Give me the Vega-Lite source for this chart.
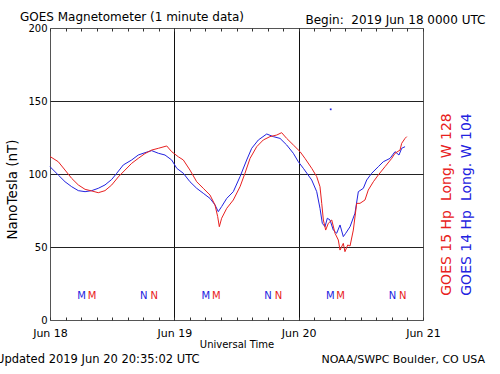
{
  "$schema": "https://vega.github.io/schema/vega-lite/v6.json",
  "width": 373,
  "height": 292,
  "autosize": {"type": "none"},
  "padding": {"left": 50, "top": 28, "right": 77, "bottom": 54},
  "background": "white",
  "title": {"text": "GOES Magnetometer (1 minute data)", "anchor": "start", "frame": "group", "dx": -30, "dy": 27.5, "offset": 8, "baseline": "alphabetic", "font": "DejaVu Sans", "fontSize": 12, "fontWeight": "normal", "color": "black"},
  "config": {
    "view": {"stroke": "#555", "strokeWidth": 1},
    "axis": {"labelFont": "DejaVu Sans", "titleFont": "DejaVu Sans", "labelColor": "black", "titleColor": "black", "titleFontWeight": "normal", "domain": false, "grid": false, "tickColor": "#333"},
    "text": {"font": "DejaVu Sans"}
  },
  "resolve": {"axis": {"x": "independent", "y": "independent"}},
  "layer": [
    {
      "data": {"values": [
        {"sat": "GOES 14", "t": "2019-06-18T00:00Z", "nT": 105},
        {"sat": "GOES 14", "t": "2019-06-18T01:36Z", "nT": 99.3},
        {"sat": "GOES 14", "t": "2019-06-18T02:54Z", "nT": 94.7},
        {"sat": "GOES 14", "t": "2019-06-18T04:11Z", "nT": 91.3},
        {"sat": "GOES 14", "t": "2019-06-18T05:28Z", "nT": 88.6},
        {"sat": "GOES 14", "t": "2019-06-18T06:46Z", "nT": 87.9},
        {"sat": "GOES 14", "t": "2019-06-18T08:03Z", "nT": 88.6},
        {"sat": "GOES 14", "t": "2019-06-18T09:19Z", "nT": 90.2},
        {"sat": "GOES 14", "t": "2019-06-18T10:37Z", "nT": 92.5},
        {"sat": "GOES 14", "t": "2019-06-18T11:55Z", "nT": 96.3},
        {"sat": "GOES 14", "t": "2019-06-18T12:53Z", "nT": 100.5},
        {"sat": "GOES 14", "t": "2019-06-18T14:09Z", "nT": 106.2},
        {"sat": "GOES 14", "t": "2019-06-18T15:46Z", "nT": 109.6},
        {"sat": "GOES 14", "t": "2019-06-18T17:02Z", "nT": 113},
        {"sat": "GOES 14", "t": "2019-06-18T18:20Z", "nT": 114.6},
        {"sat": "GOES 14", "t": "2019-06-18T19:38Z", "nT": 116},
        {"sat": "GOES 14", "t": "2019-06-18T20:55Z", "nT": 114.2},
        {"sat": "GOES 14", "t": "2019-06-18T22:12Z", "nT": 113},
        {"sat": "GOES 14", "t": "2019-06-18T23:29Z", "nT": 109.6},
        {"sat": "GOES 14", "t": "2019-06-19T00:28Z", "nT": 103.9},
        {"sat": "GOES 14", "t": "2019-06-19T01:44Z", "nT": 100.5},
        {"sat": "GOES 14", "t": "2019-06-19T03:01Z", "nT": 94.7},
        {"sat": "GOES 14", "t": "2019-06-19T04:19Z", "nT": 90.2},
        {"sat": "GOES 14", "t": "2019-06-19T05:35Z", "nT": 86.8},
        {"sat": "GOES 14", "t": "2019-06-19T06:53Z", "nT": 83.3},
        {"sat": "GOES 14", "t": "2019-06-19T07:51Z", "nT": 78.8},
        {"sat": "GOES 14", "t": "2019-06-19T08:29Z", "nT": 74.2},
        {"sat": "GOES 14", "t": "2019-06-19T09:08Z", "nT": 77.7},
        {"sat": "GOES 14", "t": "2019-06-19T10:07Z", "nT": 83.3},
        {"sat": "GOES 14", "t": "2019-06-19T11:23Z", "nT": 87.9},
        {"sat": "GOES 14", "t": "2019-06-19T12:41Z", "nT": 98.2},
        {"sat": "GOES 14", "t": "2019-06-19T13:58Z", "nT": 109.6},
        {"sat": "GOES 14", "t": "2019-06-19T14:56Z", "nT": 117.6},
        {"sat": "GOES 14", "t": "2019-06-19T16:13Z", "nT": 123.3},
        {"sat": "GOES 14", "t": "2019-06-19T17:50Z", "nT": 127.4},
        {"sat": "GOES 14", "t": "2019-06-19T19:06Z", "nT": 125.6},
        {"sat": "GOES 14", "t": "2019-06-19T20:24Z", "nT": 124.4},
        {"sat": "GOES 14", "t": "2019-06-19T21:41Z", "nT": 119.9},
        {"sat": "GOES 14", "t": "2019-06-19T22:58Z", "nT": 114.2},
        {"sat": "GOES 14", "t": "2019-06-19T23:56Z", "nT": 108.4},
        {"sat": "GOES 14", "t": "2019-06-20T00:54Z", "nT": 103.9},
        {"sat": "GOES 14", "t": "2019-06-20T02:31Z", "nT": 95.9},
        {"sat": "GOES 14", "t": "2019-06-20T03:29Z", "nT": 87.9},
        {"sat": "GOES 14", "t": "2019-06-20T04:07Z", "nT": 76.5},
        {"sat": "GOES 14", "t": "2019-06-20T04:34Z", "nT": 66.2},
        {"sat": "GOES 14", "t": "2019-06-20T05:05Z", "nT": 63.9},
        {"sat": "GOES 14", "t": "2019-06-20T05:32Z", "nT": 69.7},
        {"sat": "GOES 14", "t": "2019-06-20T06:03Z", "nT": 68.5},
        {"sat": "GOES 14", "t": "2019-06-20T06:41Z", "nT": 61.6},
        {"sat": "GOES 14", "t": "2019-06-20T07:20Z", "nT": 59.4},
        {"sat": "GOES 14", "t": "2019-06-20T07:59Z", "nT": 65.1},
        {"sat": "GOES 14", "t": "2019-06-20T08:37Z", "nT": 57.1},
        {"sat": "GOES 14", "t": "2019-06-20T09:05Z", "nT": 59.4},
        {"sat": "GOES 14", "t": "2019-06-20T09:55Z", "nT": 63.9},
        {"sat": "GOES 14", "t": "2019-06-20T10:52Z", "nT": 73.1},
        {"sat": "GOES 14", "t": "2019-06-20T11:31Z", "nT": 87.9},
        {"sat": "GOES 14", "t": "2019-06-20T12:29Z", "nT": 90.2},
        {"sat": "GOES 14", "t": "2019-06-20T13:08Z", "nT": 95.9},
        {"sat": "GOES 14", "t": "2019-06-20T14:06Z", "nT": 100.5},
        {"sat": "GOES 14", "t": "2019-06-20T15:22Z", "nT": 105},
        {"sat": "GOES 14", "t": "2019-06-20T16:20Z", "nT": 108.4},
        {"sat": "GOES 14", "t": "2019-06-20T17:38Z", "nT": 110.7},
        {"sat": "GOES 14", "t": "2019-06-20T18:36Z", "nT": 115.3},
        {"sat": "GOES 14", "t": "2019-06-20T19:22Z", "nT": 113},
        {"sat": "GOES 14", "t": "2019-06-20T19:53Z", "nT": 117.6},
        {"sat": "GOES 14", "t": "2019-06-20T20:32Z", "nT": 118.7},
        {"sat": "GOES 15", "t": "2019-06-18T00:00Z", "nT": 112},
        {"sat": "GOES 15", "t": "2019-06-18T01:36Z", "nT": 108.4},
        {"sat": "GOES 15", "t": "2019-06-18T02:54Z", "nT": 102.7},
        {"sat": "GOES 15", "t": "2019-06-18T04:11Z", "nT": 97},
        {"sat": "GOES 15", "t": "2019-06-18T05:28Z", "nT": 92.5},
        {"sat": "GOES 15", "t": "2019-06-18T06:46Z", "nT": 89.5},
        {"sat": "GOES 15", "t": "2019-06-18T08:03Z", "nT": 88.4},
        {"sat": "GOES 15", "t": "2019-06-18T09:19Z", "nT": 87.2},
        {"sat": "GOES 15", "t": "2019-06-18T10:37Z", "nT": 88.6},
        {"sat": "GOES 15", "t": "2019-06-18T11:55Z", "nT": 92.5},
        {"sat": "GOES 15", "t": "2019-06-18T13:11Z", "nT": 98},
        {"sat": "GOES 15", "t": "2019-06-18T14:29Z", "nT": 102.7},
        {"sat": "GOES 15", "t": "2019-06-18T15:46Z", "nT": 107.3},
        {"sat": "GOES 15", "t": "2019-06-18T17:02Z", "nT": 110.7},
        {"sat": "GOES 15", "t": "2019-06-18T18:20Z", "nT": 114},
        {"sat": "GOES 15", "t": "2019-06-18T19:38Z", "nT": 116.4},
        {"sat": "GOES 15", "t": "2019-06-18T20:55Z", "nT": 117.6},
        {"sat": "GOES 15", "t": "2019-06-18T22:32Z", "nT": 119.2},
        {"sat": "GOES 15", "t": "2019-06-18T23:29Z", "nT": 115.3},
        {"sat": "GOES 15", "t": "2019-06-19T00:46Z", "nT": 111.8},
        {"sat": "GOES 15", "t": "2019-06-19T01:44Z", "nT": 109.6},
        {"sat": "GOES 15", "t": "2019-06-19T03:01Z", "nT": 102.7},
        {"sat": "GOES 15", "t": "2019-06-19T04:19Z", "nT": 94.7},
        {"sat": "GOES 15", "t": "2019-06-19T05:35Z", "nT": 90.2},
        {"sat": "GOES 15", "t": "2019-06-19T06:53Z", "nT": 85.6},
        {"sat": "GOES 15", "t": "2019-06-19T07:51Z", "nT": 78.8},
        {"sat": "GOES 15", "t": "2019-06-19T08:22Z", "nT": 70.8},
        {"sat": "GOES 15", "t": "2019-06-19T08:41Z", "nT": 63.9},
        {"sat": "GOES 15", "t": "2019-06-19T09:08Z", "nT": 69.7},
        {"sat": "GOES 15", "t": "2019-06-19T10:07Z", "nT": 76.5},
        {"sat": "GOES 15", "t": "2019-06-19T11:23Z", "nT": 82.2},
        {"sat": "GOES 15", "t": "2019-06-19T12:41Z", "nT": 91.3},
        {"sat": "GOES 15", "t": "2019-06-19T13:38Z", "nT": 100.5},
        {"sat": "GOES 15", "t": "2019-06-19T14:37Z", "nT": 110.7},
        {"sat": "GOES 15", "t": "2019-06-19T15:54Z", "nT": 118.7},
        {"sat": "GOES 15", "t": "2019-06-19T17:10Z", "nT": 123.3},
        {"sat": "GOES 15", "t": "2019-06-19T18:28Z", "nT": 125.6},
        {"sat": "GOES 15", "t": "2019-06-19T19:46Z", "nT": 126.7},
        {"sat": "GOES 15", "t": "2019-06-19T20:43Z", "nT": 128.3},
        {"sat": "GOES 15", "t": "2019-06-19T21:41Z", "nT": 124.4},
        {"sat": "GOES 15", "t": "2019-06-19T22:58Z", "nT": 119.9},
        {"sat": "GOES 15", "t": "2019-06-20T00:16Z", "nT": 115.3},
        {"sat": "GOES 15", "t": "2019-06-20T01:13Z", "nT": 110.7},
        {"sat": "GOES 15", "t": "2019-06-20T02:31Z", "nT": 103.9},
        {"sat": "GOES 15", "t": "2019-06-20T03:29Z", "nT": 98.2},
        {"sat": "GOES 15", "t": "2019-06-20T04:07Z", "nT": 91.3},
        {"sat": "GOES 15", "t": "2019-06-20T04:27Z", "nT": 79.9},
        {"sat": "GOES 15", "t": "2019-06-20T04:46Z", "nT": 68.5},
        {"sat": "GOES 15", "t": "2019-06-20T05:13Z", "nT": 61.6},
        {"sat": "GOES 15", "t": "2019-06-20T05:43Z", "nT": 66.2},
        {"sat": "GOES 15", "t": "2019-06-20T06:23Z", "nT": 68.5},
        {"sat": "GOES 15", "t": "2019-06-20T07:01Z", "nT": 59.4},
        {"sat": "GOES 15", "t": "2019-06-20T07:39Z", "nT": 54.8},
        {"sat": "GOES 15", "t": "2019-06-20T07:59Z", "nT": 47.9},
        {"sat": "GOES 15", "t": "2019-06-20T08:37Z", "nT": 52.5},
        {"sat": "GOES 15", "t": "2019-06-20T08:56Z", "nT": 46.8},
        {"sat": "GOES 15", "t": "2019-06-20T09:28Z", "nT": 51.4},
        {"sat": "GOES 15", "t": "2019-06-20T09:55Z", "nT": 50.7},
        {"sat": "GOES 15", "t": "2019-06-20T10:33Z", "nT": 61.6},
        {"sat": "GOES 15", "t": "2019-06-20T11:12Z", "nT": 79.9},
        {"sat": "GOES 15", "t": "2019-06-20T11:50Z", "nT": 79.9},
        {"sat": "GOES 15", "t": "2019-06-20T12:48Z", "nT": 82.2},
        {"sat": "GOES 15", "t": "2019-06-20T13:26Z", "nT": 89},
        {"sat": "GOES 15", "t": "2019-06-20T14:25Z", "nT": 94.7},
        {"sat": "GOES 15", "t": "2019-06-20T15:22Z", "nT": 99.3},
        {"sat": "GOES 15", "t": "2019-06-20T16:40Z", "nT": 105},
        {"sat": "GOES 15", "t": "2019-06-20T17:58Z", "nT": 110.7},
        {"sat": "GOES 15", "t": "2019-06-20T18:36Z", "nT": 114.2},
        {"sat": "GOES 15", "t": "2019-06-20T19:34Z", "nT": 116.4},
        {"sat": "GOES 15", "t": "2019-06-20T19:53Z", "nT": 121},
        {"sat": "GOES 15", "t": "2019-06-20T20:32Z", "nT": 124.4},
        {"sat": "GOES 15", "t": "2019-06-20T20:52Z", "nT": 125.6}
      ]},
      "mark": {"type": "line", "strokeWidth": 1},
      "encoding": {
        "x": {"field": "t", "type": "temporal",
          "scale": {"type": "utc", "domain": [{"year": 2019, "month": 6, "date": 18, "utc": true}, {"year": 2019, "month": 6, "date": 21, "utc": true}]},
          "axis": {"orient": "bottom", "values": [
            {"year": 2019, "month": 6, "date": 18, "hours": 0, "utc": true}, {"year": 2019, "month": 6, "date": 18, "hours": 3, "utc": true}, {"year": 2019, "month": 6, "date": 18, "hours": 6, "utc": true}, {"year": 2019, "month": 6, "date": 18, "hours": 9, "utc": true}, {"year": 2019, "month": 6, "date": 18, "hours": 12, "utc": true}, {"year": 2019, "month": 6, "date": 18, "hours": 15, "utc": true}, {"year": 2019, "month": 6, "date": 18, "hours": 18, "utc": true}, {"year": 2019, "month": 6, "date": 18, "hours": 21, "utc": true},
            {"year": 2019, "month": 6, "date": 19, "hours": 0, "utc": true}, {"year": 2019, "month": 6, "date": 19, "hours": 3, "utc": true}, {"year": 2019, "month": 6, "date": 19, "hours": 6, "utc": true}, {"year": 2019, "month": 6, "date": 19, "hours": 9, "utc": true}, {"year": 2019, "month": 6, "date": 19, "hours": 12, "utc": true}, {"year": 2019, "month": 6, "date": 19, "hours": 15, "utc": true}, {"year": 2019, "month": 6, "date": 19, "hours": 18, "utc": true}, {"year": 2019, "month": 6, "date": 19, "hours": 21, "utc": true},
            {"year": 2019, "month": 6, "date": 20, "hours": 0, "utc": true}, {"year": 2019, "month": 6, "date": 20, "hours": 3, "utc": true}, {"year": 2019, "month": 6, "date": 20, "hours": 6, "utc": true}, {"year": 2019, "month": 6, "date": 20, "hours": 9, "utc": true}, {"year": 2019, "month": 6, "date": 20, "hours": 12, "utc": true}, {"year": 2019, "month": 6, "date": 20, "hours": 15, "utc": true}, {"year": 2019, "month": 6, "date": 20, "hours": 18, "utc": true}, {"year": 2019, "month": 6, "date": 20, "hours": 21, "utc": true},
            {"year": 2019, "month": 6, "date": 21, "hours": 0, "utc": true}],
            "tickSize": -3, "labelExpr": "utchours(datum.value) == 0 ? utcFormat(datum.value, '%b %d') : ''", "labelFlush": false, "labelOverlap": false, "labelBound": false, "labelPadding": 10, "labelFontSize": 11, "title": "Universal Time", "titleFontSize": 10, "titleY": 24, "titleBaseline": "middle"}},
        "y": {"field": "nT", "type": "quantitative", "scale": {"domain": [0, 200]},
          "axis": {"orient": "left", "values": [0, 50, 100, 150, 200], "ticks": false, "labelPadding": 3, "labelFontSize": 10, "title": "NanoTesla (nT)", "titleFontSize": 13.5, "titleX": -38, "titleY": 161, "titleAngle": 270, "titleAlign": "center", "titleBaseline": "middle"}},
        "color": {"field": "sat", "type": "nominal", "scale": {"domain": ["GOES 15", "GOES 14"], "range": ["#e82020", "#2222e0"]}, "legend": null}
      }
    },
    {
      "data": {"values": [
        {"sat": "GOES 14", "t": "2019-06-18T06:06Z", "letter": "M"},
        {"sat": "GOES 15", "t": "2019-06-18T08:06Z", "letter": "M"},
        {"sat": "GOES 14", "t": "2019-06-18T18:06Z", "letter": "N"},
        {"sat": "GOES 15", "t": "2019-06-18T20:06Z", "letter": "N"},
        {"sat": "GOES 14", "t": "2019-06-19T06:06Z", "letter": "M"},
        {"sat": "GOES 15", "t": "2019-06-19T08:06Z", "letter": "M"},
        {"sat": "GOES 14", "t": "2019-06-19T18:06Z", "letter": "N"},
        {"sat": "GOES 15", "t": "2019-06-19T20:06Z", "letter": "N"},
        {"sat": "GOES 14", "t": "2019-06-20T06:06Z", "letter": "M"},
        {"sat": "GOES 15", "t": "2019-06-20T08:06Z", "letter": "M"},
        {"sat": "GOES 14", "t": "2019-06-20T18:06Z", "letter": "N"},
        {"sat": "GOES 15", "t": "2019-06-20T20:06Z", "letter": "N"}
      ]},
      "mark": {"type": "text", "fontSize": 10, "baseline": "middle", "align": "center"},
      "encoding": {
        "x": {"field": "t", "type": "temporal",
          "axis": {"orient": "top", "values": [
            {"year": 2019, "month": 6, "date": 18, "hours": 0, "utc": true}, {"year": 2019, "month": 6, "date": 18, "hours": 3, "utc": true}, {"year": 2019, "month": 6, "date": 18, "hours": 6, "utc": true}, {"year": 2019, "month": 6, "date": 18, "hours": 9, "utc": true}, {"year": 2019, "month": 6, "date": 18, "hours": 12, "utc": true}, {"year": 2019, "month": 6, "date": 18, "hours": 15, "utc": true}, {"year": 2019, "month": 6, "date": 18, "hours": 18, "utc": true}, {"year": 2019, "month": 6, "date": 18, "hours": 21, "utc": true},
            {"year": 2019, "month": 6, "date": 19, "hours": 0, "utc": true}, {"year": 2019, "month": 6, "date": 19, "hours": 3, "utc": true}, {"year": 2019, "month": 6, "date": 19, "hours": 6, "utc": true}, {"year": 2019, "month": 6, "date": 19, "hours": 9, "utc": true}, {"year": 2019, "month": 6, "date": 19, "hours": 12, "utc": true}, {"year": 2019, "month": 6, "date": 19, "hours": 15, "utc": true}, {"year": 2019, "month": 6, "date": 19, "hours": 18, "utc": true}, {"year": 2019, "month": 6, "date": 19, "hours": 21, "utc": true},
            {"year": 2019, "month": 6, "date": 20, "hours": 0, "utc": true}, {"year": 2019, "month": 6, "date": 20, "hours": 3, "utc": true}, {"year": 2019, "month": 6, "date": 20, "hours": 6, "utc": true}, {"year": 2019, "month": 6, "date": 20, "hours": 9, "utc": true}, {"year": 2019, "month": 6, "date": 20, "hours": 12, "utc": true}, {"year": 2019, "month": 6, "date": 20, "hours": 15, "utc": true}, {"year": 2019, "month": 6, "date": 20, "hours": 18, "utc": true}, {"year": 2019, "month": 6, "date": 20, "hours": 21, "utc": true},
            {"year": 2019, "month": 6, "date": 21, "hours": 0, "utc": true}],
            "tickSize": -3, "labels": false, "title": "Begin:\u00a0 2019 Jun 18 0000 UTC", "titleFontSize": 12, "titleX": 435, "titleY": -5, "titleAlign": "right", "titleBaseline": "alphabetic", "titleAngle": 0}},
        "y": {"datum": 16.4, "type": "quantitative",
          "axis": {"orient": "right", "values": [50, 100, 150], "grid": true, "gridColor": "#222", "gridOpacity": 1, "ticks": false, "labels": false, "title": null}},
        "text": {"field": "letter"},
        "color": {"field": "sat", "type": "nominal", "legend": null}
      }
    },
    {
      "data": {"values": [{"sat": "GOES 14", "t": "2019-06-20T06:11Z", "nT": 144.3}]},
      "mark": {"type": "square", "size": 3, "filled": true, "opacity": 1},
      "encoding": {
        "x": {"field": "t", "type": "temporal",
          "axis": {"orient": "bottom", "values": [{"year": 2019, "month": 6, "date": 19, "utc": true}, {"year": 2019, "month": 6, "date": 20, "utc": true}], "grid": true, "gridColor": "#111", "gridOpacity": 1, "ticks": false, "labels": false, "title": null}},
        "y": {"field": "nT", "type": "quantitative", "axis": null},
        "color": {"field": "sat", "type": "nominal", "legend": null}
      }
    },
    {
      "data": {"values": [{}]},
      "mark": {"type": "text", "text": "GOES 15 Hp\u00a0 Long. W 128", "angle": 270, "fontSize": 14, "color": "#e82020", "align": "center", "baseline": "middle"},
      "encoding": {
        "x": {"datum": {"year": 2019, "month": 6, "date": 21, "hours": 4, "minutes": 35, "utc": true}, "type": "temporal", "axis": null},
        "y": {"datum": 79.1, "type": "quantitative", "axis": null}
      }
    },
    {
      "data": {"values": [{}]},
      "mark": {"type": "text", "text": "GOES 14 Hp\u00a0 Long. W 104", "angle": 270, "fontSize": 14, "color": "#2222e0", "align": "center", "baseline": "middle"},
      "encoding": {
        "x": {"datum": {"year": 2019, "month": 6, "date": 21, "hours": 8, "minutes": 30, "utc": true}, "type": "temporal", "axis": null},
        "y": {"datum": 79.1, "type": "quantitative", "axis": null}
      }
    },
    {
      "data": {"values": [{}]},
      "mark": {"type": "text", "text": "Updated 2019 Jun 20 20:35:02 UTC", "fontSize": 11.5, "color": "black", "align": "left", "baseline": "middle"},
      "encoding": {
        "x": {"datum": {"year": 2019, "month": 6, "date": 17, "hours": 13, "minutes": 35, "utc": true}, "type": "temporal", "axis": null},
        "y": {"datum": -27.4, "type": "quantitative", "axis": null}
      }
    },
    {
      "data": {"values": [{}]},
      "mark": {"type": "text", "text": "NOAA/SWPC Boulder, CO USA", "fontSize": 11, "color": "black", "align": "right", "baseline": "middle"},
      "encoding": {
        "x": {"datum": {"year": 2019, "month": 6, "date": 21, "hours": 11, "minutes": 58, "utc": true}, "type": "temporal", "axis": null},
        "y": {"datum": -27.4, "type": "quantitative", "axis": null}
      }
    }
  ]
}
